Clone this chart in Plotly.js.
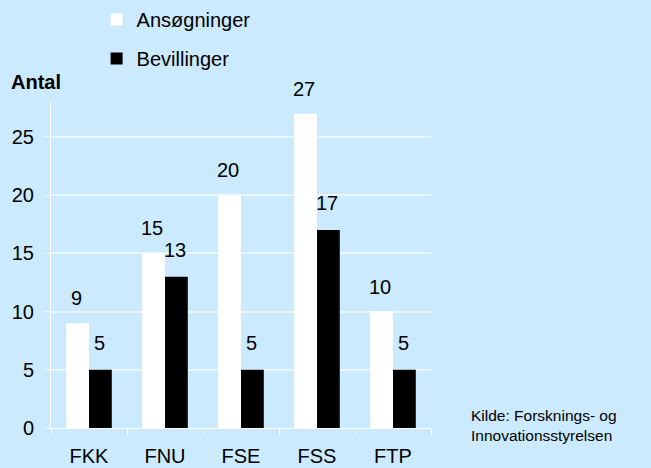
<!DOCTYPE html>
<html>
<head>
<meta charset="utf-8">
<script src="https://cdn.plot.ly/plotly-3.0.1.min.js"></script>
<style>body{margin:0;background:#cceafd;}</style>
</head>
<body>
<div id="plot" style="width:651px;height:468px;"></div>
<script>
// Categories and values
const categories = ['FKK', 'FNU', 'FSE', 'FSS', 'FTP'];
const applications = [9, 15, 20, 27, 10];
const grants = [5, 13, 5, 17, 5];
const seriesNames = ['Ansøgninger', 'Bevillinger'];

const bg = '#cceafd';
const font = 'Liberation Sans, Arial, sans-serif';

const traces = [
    { x: categories, y: applications, type: 'bar', name: seriesNames[0], legendgroup: 'a',
      marker: { color: '#ffffff' }, hoverinfo: 'x+y' },
    { x: categories, y: grants, type: 'bar', name: seriesNames[1], legendgroup: 'b',
      marker: { color: '#000000' }, hoverinfo: 'x+y' }
];

// Value labels float well above the bars, so use annotations
const annotations = [];
categories.forEach((c, i) => {
    annotations.push({ x: c, y: applications[i], text: String(applications[i]), showarrow: false,
        xref: 'x', yref: 'y', xshift: -13, yshift: 25, font: { size: 20, color: '#000' } });
    annotations.push({ x: c, y: grants[i], text: String(grants[i]), showarrow: false,
        xref: 'x', yref: 'y', xshift: 10, yshift: 27, font: { size: 20, color: '#000' } });
});
annotations.push({ text: '<b>Antal</b>', xref: 'paper', yref: 'paper', x: -0.11, y: 1.02,
    xanchor: 'left', yanchor: 'bottom', showarrow: false, font: { size: 20, color: '#000' } });
annotations.push({ text: 'Kilde: Forsknings- og<br>Innovationsstyrelsen', xref: 'paper', yref: 'paper',
    x: 1.1, y: -0.055, xanchor: 'left', yanchor: 'bottom', align: 'left', showarrow: false,
    font: { size: 15.5, color: '#000' } });

Plotly.newPlot('plot', traces, {
    width: 651, height: 468,
    margin: { l: 51, r: 220, t: 102, b: 40, autoexpand: false },
    paper_bgcolor: bg, plot_bgcolor: bg,
    font: { family: font, size: 20, color: '#000' },
    barmode: 'group', bargap: 0.4, bargroupgap: 0,
    showlegend: true,
    legend: { x: 0.12, y: 1.0, xref: 'paper', yref: 'container', xanchor: 'left', yanchor: 'top',
        bgcolor: 'rgba(0,0,0,0)', tracegroupgap: 10, font: { size: 20 } },
    xaxis: { showline: true, linecolor: '#ffffff', linewidth: 1, ticks: 'outside',
        tickson: 'boundaries', tickcolor: '#ffffff', ticklen: 6, showgrid: false,
        ticklabelstandoff: 10, tickfont: { size: 20 } },
    yaxis: { range: [0, 28], tickvals: [0, 5, 10, 15, 20, 25], showline: true,
        linecolor: '#ffffff', linewidth: 1, gridcolor: '#eaf6fe', gridwidth: 2,
        zeroline: false, ticks: 'outside', tickcolor: '#eaf6fe', ticklen: 6,
        ticklabelstandoff: 6, tickfont: { size: 20 } },
    annotations: annotations
}, { displayModeBar: false, staticPlot: true });
</script>
</body>
</html>
